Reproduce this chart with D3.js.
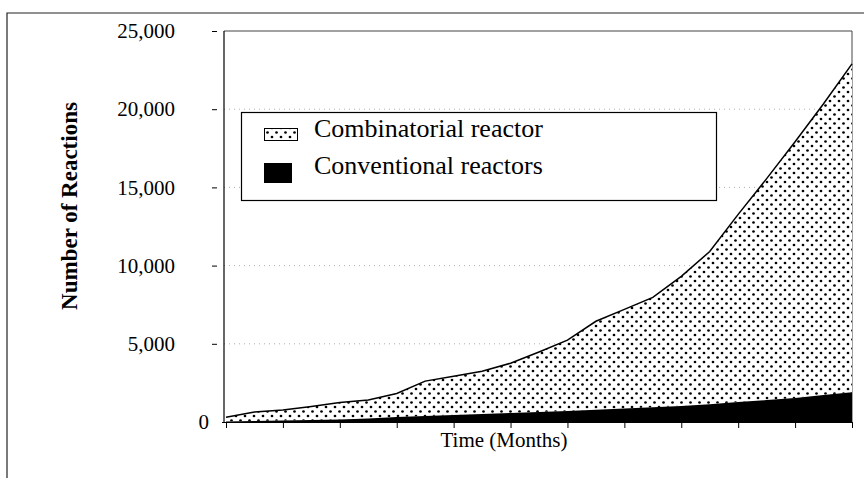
<!DOCTYPE html>
<html>
<head>
<meta charset="utf-8">
<script src="https://d3js.org/d3.v7.min.js"></script>
<style>
  body { margin: 0; background: #fff; }
  svg text { font-family: 'Liberation Serif', 'Times New Roman', serif; fill: #000; }
</style>
</head>
<body>
<script>
'use strict';

// chart data
const months = [0, 1, 2, 3, 4, 5, 6, 7, 8, 9, 10, 11, 12, 13, 14, 15, 16, 17, 18, 19, 20, 21, 22];
const conventional = [30, 60, 100, 130, 160, 220, 320, 380, 450, 510, 575, 640, 700,
  780, 860, 940, 1020, 1140, 1275, 1400, 1530, 1720, 1910];
const combinatorial = [270, 580, 665, 860, 1085, 1180, 1500, 2235, 2480, 2740, 3185, 3840, 4530,
  5660, 6340, 7030, 8290, 9760, 12000, 14160, 16390, 18630, 20990];
const yTicks = [0, 5000, 10000, 15000, 20000, 25000];
const xTicks = [0, 2, 4, 6, 8, 10, 12, 14, 16, 18, 20, 22];
const legendLabels = ['Combinatorial reactor', 'Conventional reactors'];

(function() {
  let svg = '';

  window.onload = function() {
    svg = d3
      .select('body')
      .append('svg')
      .attr('width', 864)
      .attr('height', 478);

    makePattern();
    makeChart();
  };

  // dotted fill used by the combinatorial series
  function makePattern() {
    const pattern = svg
      .append('defs')
      .append('pattern')
      .attr('id', 'dots')
      .attr('patternUnits', 'userSpaceOnUse')
      .attr('width', 9)
      .attr('height', 9);

    pattern.append('rect').attr('width', 9).attr('height', 9).attr('fill', '#fff');
    pattern.append('circle').attr('cx', 2).attr('cy', 2).attr('r', 1.35).attr('fill', '#000');
    pattern.append('circle').attr('cx', 6.5).attr('cy', 6.5).attr('r', 1.35).attr('fill', '#000');
  }

  function makeChart() {
    const plot = { left: 224, right: 852, top: 31, bottom: 422 };

    // outer frame (only top and left edges are on the page)
    svg.append('path')
      .attr('d', 'M7,478 L7,13 L864,13')
      .attr('fill', 'none')
      .attr('stroke', '#222')
      .attr('stroke-width', 1.2);

    const xScale = d3.scaleLinear()
      .domain([months[0], months[months.length - 1]])
      .range([226, plot.right]);

    const yScale = d3.scaleLinear()
      .domain([0, 25000])
      .range([plot.bottom, plot.top]);

    // dotted gridlines
    svg.append('g')
      .selectAll('line')
      .data(yTicks.filter(d => d > 0 && d < 25000))
      .enter()
      .append('line')
      .attr('x1', plot.left)
      .attr('x2', plot.right)
      .attr('y1', d => yScale(d))
      .attr('y2', d => yScale(d))
      .attr('stroke', '#999')
      .attr('stroke-width', 0.8)
      .attr('stroke-dasharray', '1,4');

    // plot frame: top and right
    svg.append('path')
      .attr('d', `M${plot.left},${plot.top} L${plot.right},${plot.top} L${plot.right},${plot.bottom}`)
      .attr('fill', 'none')
      .attr('stroke', '#444')
      .attr('stroke-width', 1);

    // stacked areas
    const rows = months.map((m, i) => ({
      month: m,
      conventional: conventional[i],
      combinatorial: combinatorial[i]
    }));
    const stacked = d3.stack().keys(['conventional', 'combinatorial'])(rows);

    const area = d3.area()
      .x(d => xScale(d.data.month))
      .y0(d => yScale(d[0]))
      .y1(d => yScale(d[1]));

    svg.append('path')
      .datum(stacked[1])
      .attr('d', area)
      .attr('fill', 'url(#dots)');

    svg.append('path')
      .datum(stacked[0])
      .attr('d', area)
      .attr('fill', '#000');

    // outline on top of the dotted series
    const topLine = d3.line()
      .x(d => xScale(d.data.month))
      .y(d => yScale(d[1]));

    svg.append('path')
      .datum(stacked[1])
      .attr('d', topLine)
      .attr('fill', 'none')
      .attr('stroke', '#000')
      .attr('stroke-width', 1.5);

    // y axis: ticks sit apart from the axis line
    const yAxis = d3.axisLeft(yScale)
      .tickValues(yTicks)
      .tickSize(5)
      .tickPadding(37)
      .tickFormat(d3.format(','));

    const yAxisG = svg.append('g')
      .attr('transform', 'translate(217, 0)')
      .call(yAxis);
    yAxisG.select('.domain').remove();
    yAxisG.selectAll('text')
      .style('font-size', '21px')
      .style('font-family', "'Liberation Serif', serif");
    yAxisG.selectAll('.tick')
      .filter(d => d === 0)
      .select('text')
      .attr('x', -8);
    yAxisG.selectAll('.tick')
      .filter(d => d === 0)
      .select('line')
      .remove();

    svg.append('line')
      .attr('x1', plot.left)
      .attr('x2', plot.left)
      .attr('y1', plot.top)
      .attr('y2', plot.bottom)
      .attr('stroke', '#000')
      .attr('stroke-width', 1.2);

    // x axis with unlabeled ticks
    const xAxis = d3.axisBottom(xScale)
      .tickValues(xTicks)
      .tickSize(6)
      .tickFormat('');

    const xAxisG = svg.append('g')
      .attr('transform', `translate(0, ${plot.bottom})`)
      .call(xAxis);
    xAxisG.select('.domain').attr('d', `M${plot.left - 2},0.5H${plot.right}`);

    // axis titles
    svg.append('text')
      .attr('x', 504)
      .attr('y', 447)
      .attr('text-anchor', 'middle')
      .style('font-size', '21px')
      .text('Time (Months)');

    svg.append('text')
      .attr('transform', 'translate(77, 206)rotate(-90)')
      .attr('text-anchor', 'middle')
      .style('font-size', '23px')
      .style('font-weight', 'bold')
      .text('Number of Reactions');

    makeLegend();
  }

  // legend box with both swatches
  function makeLegend() {
    const legend = svg.append('g');

    legend.append('rect')
      .attr('x', 241.5)
      .attr('y', 112.5)
      .attr('width', 475)
      .attr('height', 88)
      .attr('fill', '#fff')
      .attr('stroke', '#000')
      .attr('stroke-width', 1.2);

    legend.append('rect')
      .attr('x', 264.5)
      .attr('y', 128.5)
      .attr('width', 33)
      .attr('height', 12)
      .attr('fill', 'url(#dots)')
      .attr('stroke', '#000')
      .attr('stroke-width', 1);

    legend.append('rect')
      .attr('x', 264)
      .attr('y', 163)
      .attr('width', 28)
      .attr('height', 20)
      .attr('fill', '#000');

    legend.selectAll('.legend-label')
      .data(legendLabels)
      .enter()
      .append('text')
      .attr('class', 'legend-label')
      .attr('x', 314)
      .attr('y', (d, i) => 137 + i * 37)
      .style('font-size', '26px')
      .text(d => d);
  }
})();
</script>
</body>
</html>
